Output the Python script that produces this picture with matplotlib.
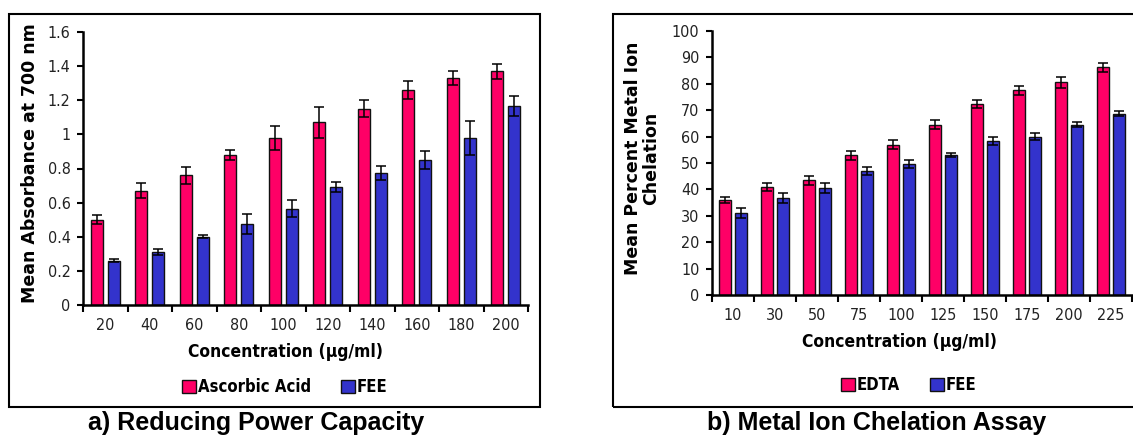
import numpy as np
import matplotlib
matplotlib.use('Agg')
import matplotlib.pyplot as plt
from matplotlib.patches import Rectangle
from matplotlib import font_manager as fm

# panel a - reducing power
conc_a = ['20', '40', '60', '80', '100', '120', '140', '160', '180', '200']
ascorbic = [0.50, 0.67, 0.76, 0.88, 0.98, 1.07, 1.15, 1.26, 1.33, 1.37]
ascorbic_err = [0.025, 0.045, 0.05, 0.03, 0.07, 0.09, 0.05, 0.05, 0.04, 0.045]
fee_a = [0.26, 0.31, 0.40, 0.475, 0.565, 0.69, 0.775, 0.85, 0.98, 1.165]
fee_a_err = [0.01, 0.018, 0.01, 0.06, 0.05, 0.03, 0.04, 0.05, 0.10, 0.06]

# panel b - metal ion chelation
conc_b = ['10', '30', '50', '75', '100', '125', '150', '175', '200', '225']
edta = [36, 40.8, 43.5, 53, 57, 64.5, 72.5, 77.5, 80.5, 86.2]
edta_err = [1.1, 1.5, 1.7, 1.7, 1.6, 1.7, 1.5, 1.6, 2.0, 1.6]
fee_b = [31, 36.8, 40.5, 47, 49.5, 53, 58.3, 60, 64.5, 68.7]
fee_b_err = [1.9, 2.0, 2.0, 1.4, 1.5, 0.9, 1.6, 1.4, 1.0, 1.0]

RED = '#FF0066'
BLUE = '#3333CC'
W, H = 1133, 437

# narrow font if there is one, else Liberation Sans
names = set(f.name for f in fm.fontManager.ttflist)
cond = [f for f in fm.fontManager.ttflist if f.name == 'DejaVu Sans' and 'ondensed' in f.fname]
if 'Liberation Sans Narrow' in names:
    NARROW = dict(family='Liberation Sans Narrow')
elif cond:
    NARROW = dict(family='DejaVu Sans', stretch='condensed')
else:
    NARROW = dict(family='Liberation Sans')

fig = plt.figure(figsize=(W / 100, H / 100), dpi=100)


def fx(px):
    return px / W


def fy(py):
    return 1 - py / H


def draw_panel(left, right, top, bottom, cats, s1, e1, s2, e2, ylim, yticks, ylabels):
    ax = fig.add_axes([fx(left), fy(bottom), fx(right - left), (bottom - top) / H])
    x = np.arange(len(cats))
    w = 0.27
    off = 0.19
    b1 = ax.bar(x - off, s1, w, color=RED, edgecolor='#111111', linewidth=1.0, zorder=2)
    b2 = ax.bar(x + off, s2, w, color=BLUE, edgecolor='#111111', linewidth=1.0, zorder=2)
    ax.errorbar(x - off, s1, yerr=e1, fmt='none', ecolor='black', elinewidth=1.1, capsize=3.5, capthick=1.1, zorder=3)
    ax.errorbar(x + off, s2, yerr=e2, fmt='none', ecolor='black', elinewidth=1.1, capsize=3.5, capthick=1.1, zorder=3)
    ax.set_xlim(-0.5, len(cats) - 0.5)
    ax.set_ylim(*ylim)
    ax.set_yticks(yticks)
    ax.set_yticklabels(ylabels, fontsize=11.5, color='#222222', **NARROW)
    ax.set_xticks(x)
    ax.set_xticklabels(cats, fontsize=11.5, color='#222222', **NARROW)
    ax.set_xticks(np.arange(len(cats) + 1) - 0.5, minor=True)
    ax.tick_params(axis='x', which='major', length=0, pad=9)
    ax.tick_params(axis='x', which='minor', length=5, width=1.5, direction='out')
    ax.tick_params(axis='y', length=4, width=1.5, direction='out', pad=5)
    for s in ['top', 'right']:
        ax.spines[s].set_visible(False)
    for s in ['left', 'bottom']:
        ax.spines[s].set_linewidth(1.8)
    return ax, b1, b2


leg_prop = fm.FontProperties(weight='bold', size=12, **NARROW)

# panel a
ax1, a1, a2 = draw_panel(83, 528, 32, 305, conc_a, ascorbic, ascorbic_err, fee_a, fee_a_err,
                         (0, 1.6), np.arange(0, 1.61, 0.2),
                         ['0', '0.2', '0.4', '0.6', '0.8', '1', '1.2', '1.4', '1.6'])
fig.text(fx(30), fy(163), 'Mean Absorbance at 700 nm', rotation=90, ha='center', va='center',
         fontsize=12.5, fontweight='bold', family='DejaVu Sans')
fig.text(fx(286), fy(352), 'Concentration (µg/ml)', ha='center', va='center',
         fontsize=12.5, fontweight='bold', **NARROW)
fig.legend([a1, a2], ['Ascorbic Acid', 'FEE'], loc='center', bbox_to_anchor=(fx(285), fy(387)),
           ncol=2, frameon=False, handlelength=0.8, handleheight=0.8, handletextpad=0.15,
           columnspacing=1.8, prop=leg_prop)

# panel b
ax2, c1, c2 = draw_panel(712, 1132, 31, 295, conc_b, edta, edta_err, fee_b, fee_b_err,
                         (0, 100), np.arange(0, 101, 10), [str(v) for v in range(0, 101, 10)])
fig.text(fx(642), fy(158), 'Mean Percent Metal Ion\nChelation', rotation=90, ha='center', va='center',
         fontsize=12.5, fontweight='bold', family='DejaVu Sans', linespacing=1.0)
fig.text(fx(900), fy(342), 'Concentration (µg/ml)', ha='center', va='center',
         fontsize=12.5, fontweight='bold', **NARROW)
fig.legend([c1, c2], ['EDTA', 'FEE'], loc='center', bbox_to_anchor=(fx(909), fy(385)),
           ncol=2, frameon=False, handlelength=0.8, handleheight=0.8, handletextpad=0.15,
           columnspacing=1.8, prop=leg_prop)

# panel frames
fig.patches.append(Rectangle((fx(9), fy(407)), fx(540 - 9), (407 - 14) / H, transform=fig.transFigure,
                             fill=False, edgecolor='black', linewidth=1.5))
fig.patches.append(Rectangle((fx(613), fy(407)), fx(1200 - 613), (407 - 14) / H, transform=fig.transFigure,
                             fill=False, edgecolor='black', linewidth=1.5))

# captions
fig.text(fx(256), fy(423), 'a) Reducing Power Capacity', ha='center', va='center',
         fontsize=18, fontweight='bold', family='Liberation Sans')
fig.text(fx(877), fy(423), 'b) Metal Ion Chelation Assay', ha='center', va='center',
         fontsize=18, fontweight='bold', family='Liberation Sans')

fig.savefig('out.png', dpi=100)
